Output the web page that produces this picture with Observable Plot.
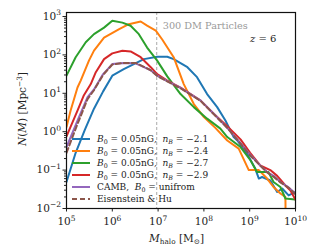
<!DOCTYPE html>
<html><head><meta charset="utf-8">
<script src="https://cdn.jsdelivr.net/npm/d3@7"></script>
<script src="https://cdn.jsdelivr.net/npm/@observablehq/plot@0.6"></script>
<style>
body{margin:0;background:#fff;}
#wrap{position:relative;width:328px;height:251px;font-family:"DejaVu Serif",serif;color:#222;}
#legend{position:absolute;left:72px;top:133px;font-size:9px;line-height:12px;}
#legend .row{display:flex;align-items:center;height:12px;white-space:nowrap;}
#legend svg{margin-right:7px;}
.lbl{position:absolute;white-space:nowrap;}
sub{font-size:70%;vertical-align:-2px;line-height:0;}
sup{font-size:70%;vertical-align:4px;line-height:0;}
</style></head><body>
<div id="wrap"></div>
<script>
// log10(M_halo / Msun) and log10(N / Mpc^-3)
const logM_n21 = [5.0,5.2,5.4,5.6,5.8,6.0,6.25,6.47,6.69,6.98,7.2,7.34,7.64,7.85,8.07,8.29,8.47,8.65,8.73,8.94,9.12,9.2,9.27,9.45,9.6,9.71,9.85,10.0];
const logN_n21 = [-1.31,-0.55,0.05,0.6,1.05,1.46,1.63,1.76,1.89,1.95,1.95,1.89,1.68,1.42,0.98,0.64,0.29,-0.14,-0.23,-0.57,-0.96,-1.22,-1.18,-1.27,-1.57,-1.48,-1.66,-1.57];
const logM_n24 = [5.0,5.09,5.24,5.31,5.49,5.6,5.82,6.15,6.36,6.62,6.76,6.95,7.09,7.34,7.56,7.78,8.0,8.25,8.51,8.76,8.98,9.2,9.38,9.52,9.67,9.78,9.79];
const logN_n24 = [0.12,0.55,1.15,1.33,1.85,2.11,2.45,2.67,2.80,2.87,2.76,2.63,2.40,1.94,1.24,0.72,0.38,0.10,-0.23,-0.44,-1.0,-1.0,-1.22,-1.44,-1.61,-1.7,-3.0];
const logM_n27 = [5.0,5.2,5.42,5.6,5.82,6.0,6.22,6.4,6.58,6.76,6.98,7.2,7.49,7.78,8.07,8.36,8.51,8.8,9.02,9.16,9.41,9.52,9.67,9.78,10.0];
const logN_n27 = [1.46,1.94,2.33,2.54,2.71,2.89,2.84,2.76,2.54,2.19,1.85,1.44,0.98,0.64,0.34,0.08,-0.14,-0.40,-0.75,-1.05,-1.05,-1.31,-1.44,-1.74,-1.77];
const logM_n29 = [5.0,5.24,5.38,5.53,5.64,5.82,6.0,6.22,6.4,6.62,6.84,6.98,7.2,7.49,7.93,8.22,8.51,8.8,9.01,9.23,9.45,9.6,9.78,9.89,10.0];
const logN_n29 = [-0.12,0.55,0.95,1.24,1.55,1.89,2.04,2.11,2.09,1.94,1.68,1.50,1.33,1.15,0.81,0.46,0.14,-0.2,-0.55,-0.88,-1.0,-1.15,-1.40,-1.53,-1.77];
const logM_camb = [5.0,5.24,5.46,5.6,5.8,6.0,6.25,6.51,6.69,6.84,6.98,7.2,7.49,7.93,8.22,8.51,8.8,9.01,9.23,9.38,9.52,9.67,9.85,10.0];
const logN_camb = [-0.40,0.29,0.9,1.1,1.5,1.76,1.79,1.78,1.68,1.60,1.46,1.32,1.14,0.81,0.46,0.10,-0.30,-0.6,-0.88,-1.05,-1.15,-1.31,-1.45,-1.61];
const logM_eh = [5.0,5.24,5.46,5.6,5.8,6.0,6.25,6.51,6.69,6.84,6.98,7.2,7.49,7.93,8.22,8.51,8.8,9.01,9.23,9.38,9.52,9.67,9.85,10.0];
const logN_eh = [-0.55,0.2,0.85,1.08,1.48,1.75,1.79,1.79,1.69,1.60,1.45,1.31,1.13,0.80,0.45,0.10,-0.31,-0.62,-0.88,-1.06,-1.17,-1.32,-1.46,-1.63];
const particleLimitLogM = 6.97;

const seriesNames = ["nB=-2.1","nB=-2.4","nB=-2.7","nB=-2.9","CAMB","EH"];
const seriesColors = ["#1f77b4","#ff7f0e","#2ca02c","#d62728","#9467bd","#8c564b"];
const legendHTML = [
  "<i>B</i><sub>0</sub> = 0.05nG<i>,</i> &nbsp;<i>n<sub>B</sub></i> = &minus;2.1",
  "<i>B</i><sub>0</sub> = 0.05nG<i>,</i> &nbsp;<i>n<sub>B</sub></i> = &minus;2.4",
  "<i>B</i><sub>0</sub> = 0.05nG<i>,</i> &nbsp;<i>n<sub>B</sub></i> = &minus;2.7",
  "<i>B</i><sub>0</sub> = 0.05nG<i>,</i> &nbsp;<i>n<sub>B</sub></i> = &minus;2.9",
  "CAMB, &nbsp;<i>B</i><sub>0</sub> = unifrom",
  "Eisenstein &amp; Hu"
];
const xTicks = [1e5,1e6,1e7,1e8,1e9,1e10];
const yTicks = [1e-2,1e-1,1e0,1e1,1e2,1e3];

const allM = [logM_n21,logM_n24,logM_n27,logM_n29,logM_camb,logM_eh];
const allN = [logN_n21,logN_n24,logN_n27,logN_n29,logN_camb,logN_eh];
const rows = [];
allM.forEach((ms,i)=>ms.forEach((lm,j)=>rows.push({series:seriesNames[i], m:10**lm, n:10**allN[i][j]})));
const solid = rows.filter(r=>r.series!=="EH");
const dashed = rows.filter(r=>r.series==="EH");

const minorY = [];
for (let k=-2;k<=2;k++) for (let f=2;f<=9;f++) minorY.push(f*10**k);

const fmt = d => "10^" + Math.round(Math.log10(d));

const chart = Plot.plot({
  width:328, height:251,
  marginLeft:66, marginRight:33, marginTop:12, marginBottom:43,
  style:{fontFamily:"DejaVu Serif", fontSize:"10px", color:"#222", background:"white"},
  x:{type:"log", domain:[1e5,1e10]},
  y:{type:"log", domain:[1e-2, 10**3.104]},
  color:{domain:seriesNames, range:seriesColors},
  marks:[
    Plot.ruleX([10**particleLimitLogM], {stroke:"#aaa", strokeWidth:1, strokeDasharray:"3,2"}),
    Plot.text([10**particleLimitLogM], {x:d=>d, frameAnchor:"top", text:()=>"300 DM Particles", textAnchor:"start", dx:6, dy:10, fill:"#999", fontSize:9.7}),
    Plot.line(solid, {x:"m", y:"n", z:"series", stroke:"series", strokeWidth:2, clip:true}),
    Plot.line(dashed, {x:"m", y:"n", stroke:"series", strokeWidth:2, strokeDasharray:"5,3", clip:true}),
    Plot.axisX({ticks:xTicks, tickFormat:fmt, tickSize:3.5, tickPadding:6, label:null, fontSize:10.5}),
    Plot.axisY({ticks:yTicks, tickFormat:fmt, tickSize:3.5, tickPadding:2, label:null, fontSize:10.5}),
    Plot.axisY({ticks:minorY, tickFormat:()=>"", tickSize:2, label:null}),
    Plot.frame({stroke:"#111", strokeWidth:1.2})
  ]
});
// render "10^k" tick labels as 10 with a raised exponent
d3.select(chart).selectAll("text").each(function(){
  const t = this.textContent;
  if (!/^10\^-?\d+$/.test(t)) return;
  const e = t.split("^")[1].replace("-", "\u2212");
  const s = d3.select(this);
  s.text("");
  s.append("tspan").text("10");
  s.append("tspan").attr("dy","-4.5").attr("font-size","7.5px").text(e);
});
const wrap = document.getElementById("wrap");
wrap.appendChild(chart);

const leg = document.createElement("div");
leg.id="legend";
seriesNames.forEach((s,i)=>{
  const row=document.createElement("div"); row.className="row";
  const dash = s==="EH" ? ' stroke-dasharray="5,3"' : '';
  row.innerHTML = `<svg width="18" height="4"><line x1="0" x2="18" y1="2" y2="2" stroke="${seriesColors[i]}" stroke-width="2"${dash}/></svg><span>${legendHTML[i]}</span>`;
  leg.appendChild(row);
});
wrap.appendChild(leg);

function addLabel(html, css){
  const d=document.createElement("div"); d.className="lbl"; d.innerHTML=html; Object.assign(d.style, css); wrap.appendChild(d);
}
addLabel("<i>z</i> = 6", {left:"250px", top:"33px", fontSize:"10px"});
addLabel("<i>M</i><sub>halo</sub> [M<sub>⊙</sub>]", {left:"149px", top:"232px", fontSize:"10.5px"});
addLabel("<i>N</i>(<i>M</i>) [Mpc<sup>−3</sup>]", {left:"22px", top:"109px", fontSize:"10.5px", transform:"translate(-50%,-50%) rotate(-90deg)"});
</script>
</body></html>
